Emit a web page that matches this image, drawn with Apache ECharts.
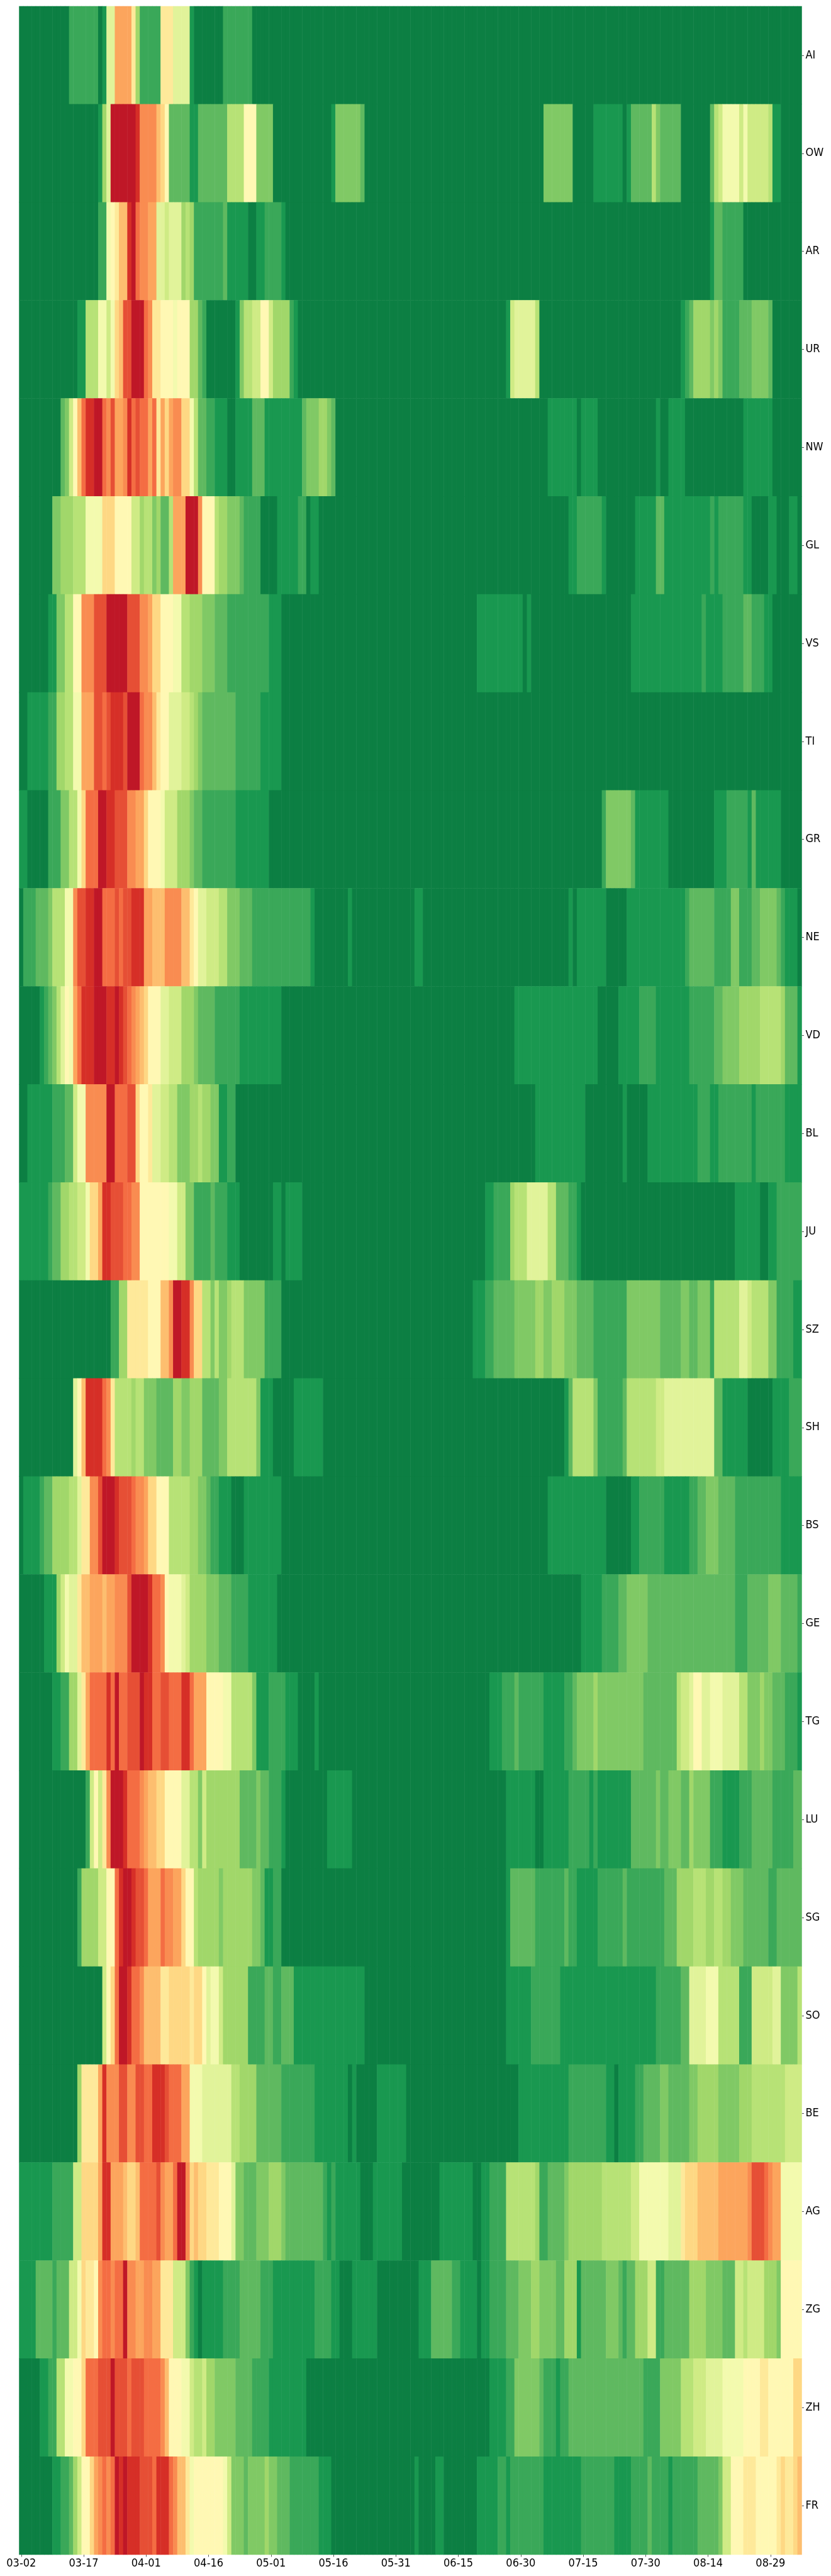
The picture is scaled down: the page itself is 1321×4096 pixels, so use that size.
<!DOCTYPE html>
<html><head><meta charset="utf-8">
<script src="https://cdn.jsdelivr.net/npm/echarts@6/dist/echarts.min.js"></script>
<style>html,body{margin:0;padding:0;background:#fff}#c{width:1321px;height:4096px}</style>
</head><body><div id="c"></div>
<script>
// Each row: alternating colour level (0-19), number of consecutive days at that level.
const AI=[0,12,2,7,0,1,1,1,8,2,14,4,11,1,5,1,2,5,11,3,8,4,1,1,0,7,2,7,0,132];
const OW=[0,19,1,1,5,1,8,1,19,6,18,1,15,4,13,1,12,1,10,1,3,5,1,2,3,7,6,4,10,3,4,4,0,14,1,1,4,6,3,1,0,43,4,7,0,5,1,7,0,1,1,1,3,5,6,1,4,1,3,5,0,7,3,1,6,1,7,1,9,4,7,1,9,1,7,5,6,1,1,2,0,5];
const AR=[0,19,2,2,9,1,10,1,11,1,13,2,18,1,19,1,16,1,15,2,14,2,8,2,7,1,8,3,5,1,6,1,5,1,2,7,3,1,1,5,0,2,1,2,2,4,1,1,0,102,1,1,3,2,2,5,0,14];
const UR=[0,14,1,2,6,3,9,2,7,1,9,1,12,1,13,1,17,2,19,3,16,1,15,1,11,2,10,3,9,1,10,3,5,2,3,1,2,1,0,7,1,1,4,1,6,2,7,2,10,2,7,1,5,4,2,1,1,1,0,50,1,1,7,1,8,5,6,1,0,34,1,1,2,1,3,1,5,4,4,1,5,1,4,1,2,4,3,3,4,4,3,1,0,7];
const NW=[0,10,3,1,4,1,7,1,10,1,13,1,16,1,18,2,19,2,16,1,15,1,17,1,14,2,15,1,18,1,16,1,17,1,16,2,14,1,16,1,11,1,14,1,12,1,14,1,15,2,12,2,9,1,6,1,3,2,2,2,1,3,0,2,1,4,3,3,1,9,3,1,4,3,5,2,4,1,3,1,0,51,1,7,0,1,1,4,0,14,1,1,0,2,1,4,0,14,1,7,0,7];
const GL=[0,8,4,2,5,3,6,3,9,4,12,3,10,4,7,2,5,1,6,2,4,1,5,1,3,2,6,1,14,3,19,3,15,1,10,3,6,1,5,2,4,3,3,1,2,4,0,4,1,5,2,2,0,1,1,2,0,60,1,2,2,6,1,1,0,7,1,5,3,2,1,11,2,1,1,1,2,6,1,2,0,4,1,2,0,3,1,2,0,1];
const VS=[0,7,1,2,4,2,6,2,10,2,15,3,17,3,19,5,17,3,15,2,14,1,12,2,10,3,9,2,6,2,5,3,4,3,3,3,2,10,1,3,0,47,1,11,0,1,1,1,0,24,1,17,2,1,1,4,2,5,3,2,2,3,1,2,0,7];
const TI=[0,2,1,5,2,2,5,2,6,2,9,2,14,3,17,2,16,1,17,1,18,3,17,1,19,1,19,2,16,1,15,2,13,1,11,1,10,2,8,3,7,2,6,1,5,1,4,1,3,8,2,6,1,5,0,125];
const GR=[1,2,0,5,2,3,4,2,6,2,9,1,12,1,16,3,19,2,18,2,17,3,15,2,14,2,12,1,10,3,9,1,7,3,5,3,4,1,3,2,2,8,1,8,0,80,2,1,4,6,3,1,1,8,0,11,1,3,2,5,1,1,3,1,1,6,0,5];
const NE=[0,1,2,3,3,3,4,1,6,3,9,2,15,1,17,2,18,2,19,2,16,3,17,1,16,1,17,2,18,3,14,2,13,3,15,4,13,2,11,1,10,1,8,2,7,3,6,2,4,3,3,3,2,14,1,1,0,8,1,1,0,15,1,2,0,35,1,1,0,1,1,7,0,5,1,14,2,1,3,6,2,4,4,2,2,3,3,2,4,4,3,1,2,1,1,3,0,1];
const VD=[0,5,1,1,2,1,3,1,4,1,6,1,8,1,10,1,9,1,14,1,16,1,18,3,19,3,18,2,19,1,18,1,17,1,16,1,15,1,14,1,13,1,12,1,10,3,8,2,7,3,5,3,4,1,3,4,2,6,1,10,0,56,1,20,0,5,1,5,2,4,1,8,2,6,3,2,4,4,5,5,6,5,5,1,3,3,1,1];
const BL=[0,2,1,6,2,3,3,2,7,1,9,2,15,2,15,3,19,2,16,3,17,2,12,1,10,2,11,1,8,2,7,2,6,2,4,3,5,2,6,1,5,2,4,2,1,2,2,2,0,72,1,12,0,9,1,1,0,5,1,12,2,3,1,2,2,8,1,1,2,7,1,4];
const JU=[1,7,2,1,3,2,5,2,6,2,7,2,9,1,12,2,14,1,18,2,17,3,16,2,15,2,10,7,9,2,7,2,4,2,2,4,3,1,2,3,1,3,0,8,1,2,0,1,1,4,0,44,1,2,2,4,5,1,6,3,8,5,6,2,3,3,2,2,1,1,0,37,1,2,1,4,0,2,1,2,2,6];
const SZ=[0,22,2,2,5,2,11,5,10,3,13,2,15,1,19,2,18,2,15,1,12,2,6,2,4,1,6,1,4,2,5,1,6,3,4,2,4,3,2,4,0,46,1,3,2,2,3,5,4,5,5,2,4,2,5,3,4,3,3,4,2,8,4,8,3,5,4,2,3,2,4,3,2,1,6,6,8,2,7,1,6,4,4,2,2,4,1,2];
const SH=[0,13,8,1,10,1,13,1,18,4,16,1,15,1,11,1,6,4,5,1,6,2,4,3,3,4,5,2,4,2,5,3,3,4,4,2,6,7,4,1,1,1,1,2,0,5,1,7,0,58,1,1,3,1,6,5,4,1,2,2,2,4,3,1,6,7,7,2,8,12,3,2,1,6,0,6,1,4,2,3];
const BS=[0,1,1,4,2,1,3,2,5,4,6,2,8,1,11,2,15,2,17,1,19,3,18,1,17,3,16,1,15,2,14,1,12,2,10,1,10,2,6,5,5,2,4,2,3,1,2,2,1,3,0,3,1,9,0,64,1,14,0,6,1,2,2,6,1,6,2,2,3,2,4,3,3,4,2,11,1,5];
const GE=[0,6,1,3,5,1,7,1,9,1,8,2,11,1,13,2,14,3,13,1,14,2,15,3,17,1,19,4,18,1,16,2,15,1,10,1,9,3,8,1,7,1,5,4,4,3,3,3,2,4,1,7,0,73,1,5,2,4,3,2,4,5,3,21,2,3,3,5,4,3,3,4,2,1];
const TG=[0,8,1,2,2,2,5,2,8,1,11,1,14,1,16,4,18,1,16,1,19,1,16,2,17,3,19,1,18,2,16,2,17,2,16,3,18,2,16,1,14,3,10,4,9,2,6,5,4,1,1,3,2,4,1,3,0,4,1,1,0,41,1,3,2,3,3,1,2,6,1,5,2,2,3,1,4,4,5,1,4,11,3,8,6,1,7,2,8,1,10,2,8,2,9,3,8,4,6,2,4,3,5,1,4,2,3,3,2,3,1,1];
const LU=[0,16,2,1,7,1,10,1,7,1,11,1,15,1,19,3,18,1,16,3,15,1,14,1,13,2,12,2,10,4,8,2,6,2,4,1,7,1,5,8,3,4,4,1,3,2,2,3,1,1,0,10,1,6,0,37,1,7,0,2,1,6,2,5,1,1,2,1,1,8,3,6,4,1,3,2,4,3,3,2,5,1,4,4,2,3,1,4,2,3,3,5,2,5,3,2];
const SG=[0,14,2,1,5,4,7,2,10,2,16,1,18,1,19,2,18,1,17,2,16,1,14,3,16,1,15,2,14,2,12,1,10,2,6,1,5,5,4,1,5,7,4,2,3,1,1,2,2,2,0,54,1,1,3,6,2,7,3,1,2,2,1,5,2,6,3,1,2,9,3,3,5,4,6,3,5,2,6,2,5,2,4,3,3,6,2,2,3,6];
const SO=[0,20,7,1,10,1,12,1,16,1,19,2,18,1,16,2,15,1,13,4,11,2,12,1,12,4,11,1,12,2,10,1,8,1,9,2,7,1,5,6,2,4,3,2,2,2,3,3,1,17,0,34,1,6,2,7,1,23,2,6,3,2,8,4,9,3,6,5,2,3,7,5,8,2,4,4,6,1];
const BE=[0,14,5,1,11,4,14,1,18,1,15,3,17,2,15,2,17,2,16,2,18,3,17,1,16,3,14,2,9,3,8,6,8,1,6,2,5,4,3,3,3,3,2,8,1,8,0,1,1,1,0,5,1,7,0,27,1,12,2,9,1,2,0,1,1,4,2,2,3,4,4,2,3,5,4,2,5,5,4,5,5,3,6,8,7,4];
const AG=[1,8,2,5,7,2,12,4,14,1,18,2,14,3,13,1,12,2,13,1,16,4,17,1,15,1,14,2,16,1,19,2,15,1,12,1,13,1,12,2,11,3,10,3,8,1,4,2,3,3,4,3,5,3,4,1,3,9,2,1,1,1,2,1,1,6,0,3,1,7,0,9,1,8,0,2,1,2,2,4,6,7,5,1,2,2,3,4,4,1,5,6,5,2,6,7,7,2,9,2,9,5,8,3,11,1,12,3,13,5,14,1,14,6,15,1,17,3,16,1,15,1,14,2,9,5];
const ZG=[1,4,3,4,2,1,3,3,7,2,9,1,12,1,11,2,10,1,15,1,16,2,15,1,16,2,19,1,15,2,14,2,15,2,14,2,11,3,7,3,4,1,2,1,1,1,0,1,1,2,1,3,2,4,3,5,2,2,2,1,1,2,1,8,2,4,1,2,0,3,1,6,0,10,1,3,3,5,2,2,1,4,0,1,1,2,2,4,3,3,4,3,5,2,4,4,3,2,5,3,1,1,3,6,4,3,3,1,2,1,3,2,5,3,7,2,2,2,3,6,5,4,4,4,3,3,7,2,6,1,7,4,5,3,4,1,10,5];
const ZH=[0,5,1,2,2,2,6,2,9,2,10,2,12,1,16,3,17,3,19,1,17,3,16,1,17,3,16,4,15,1,13,1,10,3,9,2,7,1,6,2,7,1,5,2,4,5,3,4,2,4,1,9,0,44,1,4,2,2,4,6,3,1,2,3,1,1,2,2,3,18,2,4,4,5,6,3,7,3,8,4,9,5,10,4,11,2,10,6,12,2];
const FR=[0,8,1,2,2,2,3,1,5,1,7,1,10,2,12,1,14,1,15,1,16,1,15,1,16,1,19,1,18,1,19,1,18,3,17,3,16,1,18,3,16,1,15,1,13,2,11,1,9,1,10,7,9,1,7,1,4,1,4,2,3,1,4,4,5,1,4,2,3,3,2,7,1,3,0,20,1,1,0,4,1,2,0,8,1,5,2,2,1,1,2,8,1,9,2,8,1,4,2,4,3,1,2,4,1,1,2,6,3,5,4,1,7,2,10,3,11,3,10,5,11,1,12,1,11,2,12,1,13,1];

const rowNames=['AI','OW','AR','UR','NW','GL','VS','TI','GR','NE','VD','BL','JU','SZ','SH','BS','GE','TG','LU','SG','SO','BE','AG','ZG','ZH','FR'];
const rowRuns=[AI,OW,AR,UR,NW,GL,VS,TI,GR,NE,VD,BL,JU,SZ,SH,BS,GE,TG,LU,SG,SO,BE,AG,ZG,ZH,FR];
const monthDays=[['03',31],['04',30],['05',31],['06',30],['07',31],['08',31],['09',30]];
const colours=['#0c7f43','#199850','#3aa859','#5fb960','#80c965','#a1d76a','#b7e276','#cfeb85','#e1f39a','#f3faae','#fff8b4','#fee99a','#fed884','#fdbe6f','#fca55d','#f98c51','#f46d43','#e64f35','#d62f27','#bf1727'];

const days=[];
monthDays.forEach(([m,n])=>{for(let d=1;d<=n;d++)days.push(m+'-'+String(d).padStart(2,'0'));});
const categories=days.slice(1,189);
const cells=[];
rowRuns.forEach((runs,y)=>{
  let x=0;
  for(let i=0;i<runs.length;i+=2){
    for(let k=0;k<runs[i+1];k++){ if(x<188) cells.push([x,y,runs[i]]); x++; }
  }
});
const font='"DejaVu Sans Condensed","DejaVu Sans",sans-serif';
const chart=echarts.init(document.getElementById('c'),null,{renderer:'canvas'});
chart.setOption({
  animation:false,
  grid:{left:30.5,top:10,width:1244,height:4052,containLabel:false},
  tooltip:{show:false},
  xAxis:{type:'category',data:categories,
    axisLine:{show:false},
    axisTick:{show:true,interval:14,alignWithLabel:true,length:3.5,lineStyle:{color:'#555',width:1}},
    axisLabel:{interval:14,fontFamily:font,fontSize:18,color:'#000',margin:5},
    splitLine:{show:false},splitArea:{show:false}},
  yAxis:{type:'category',data:rowNames,inverse:true,position:'right',
    axisLine:{show:false},
    axisTick:{show:true,alignWithLabel:true,length:3.5,lineStyle:{color:'#555',width:1}},
    axisLabel:{fontFamily:font,fontSize:18,color:'#000',margin:6},
    splitLine:{show:false},splitArea:{show:false}},
  visualMap:{show:false,type:'continuous',min:0,max:19,dimension:2,inRange:{color:colours}},
  series:[{type:'heatmap',data:cells,progressive:0,silent:true,itemStyle:{borderWidth:0},emphasis:{disabled:true}}]
});
</script></body></html>
